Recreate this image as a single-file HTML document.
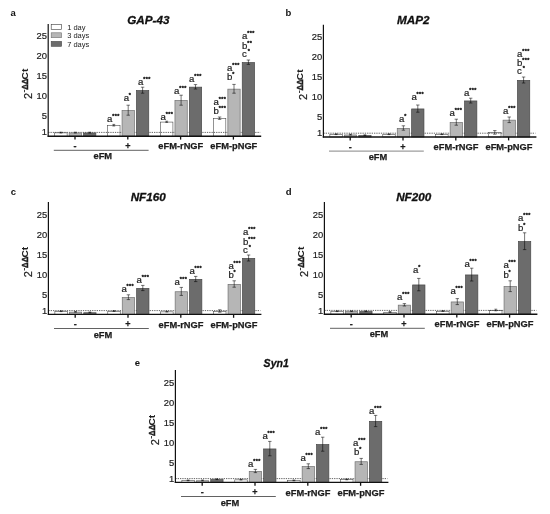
<!DOCTYPE html>
<html lang="en"><head><meta charset="utf-8"><title>Gene expression figure</title>
<style>
html,body{margin:0;padding:0;background:#fff;}
body{width:550px;height:514px;overflow:hidden;}
svg{display:block;font-family:"Liberation Sans", Arial, sans-serif;}
.hb{stroke:#1c1c1c;stroke-width:.25px;}
.hr{stroke:#1c1c1c;stroke-width:.2px;}
.ht{stroke:#111;stroke-width:.3px;}
</style></head><body>
<svg width="550" height="514" viewBox="0 0 550 514">
<rect width="550" height="514" fill="#fff"/>
<g class="panel-a">
<rect x="54.68" y="132.88" width="12.45" height="3.32" fill="#ffffff" stroke="#3a3a3a" stroke-width="0.55"/>
<rect x="107.58" y="125.47" width="12.45" height="10.72" fill="#ffffff" stroke="#3a3a3a" stroke-width="0.55"/>
<rect x="160.47" y="122.07" width="12.45" height="14.13" fill="#ffffff" stroke="#3a3a3a" stroke-width="0.55"/>
<rect x="213.38" y="118.47" width="12.45" height="17.73" fill="#ffffff" stroke="#3a3a3a" stroke-width="0.55"/>
<line x1="48.2" y1="132.4" x2="260.2" y2="132.4" stroke="#222" stroke-width="0.7" stroke-dasharray="1.3 1"/>
<rect x="69.15" y="132.95" width="12.3" height="3.25" fill="#b6b6b6" stroke="#707070" stroke-width="0.7"/>
<rect x="83.55" y="132.95" width="12.3" height="3.25" fill="#6c6c6c" stroke="#484848" stroke-width="0.7"/>
<rect x="122.05" y="110.55" width="12.3" height="25.65" fill="#b6b6b6" stroke="#707070" stroke-width="0.7"/>
<rect x="136.45" y="90.55" width="12.3" height="45.65" fill="#6c6c6c" stroke="#484848" stroke-width="0.7"/>
<rect x="174.95" y="100.55" width="12.3" height="35.65" fill="#b6b6b6" stroke="#707070" stroke-width="0.7"/>
<rect x="189.35" y="87.15" width="12.3" height="49.05" fill="#6c6c6c" stroke="#484848" stroke-width="0.7"/>
<rect x="227.85" y="89.15" width="12.3" height="47.05" fill="#b6b6b6" stroke="#707070" stroke-width="0.7"/>
<rect x="242.25" y="62.55" width="12.3" height="73.65" fill="#6c6c6c" stroke="#484848" stroke-width="0.7"/>
<path d="M60.9 132.2V133M59.5 132.2H62.3M59.5 133H62.3" stroke="#000" stroke-opacity="0.6" stroke-width="0.9" fill="none"/>
<path d="M75.3 132.2V133M73.9 132.2H76.7M73.9 133H76.7" stroke="#000" stroke-opacity="0.6" stroke-width="0.9" fill="none"/>
<path d="M89.7 132.2V133M88.3 132.2H91.1M88.3 133H91.1" stroke="#000" stroke-opacity="0.6" stroke-width="0.9" fill="none"/>
<path d="M113.8 124.4V126M112.4 124.4H115.2M112.4 126H115.2" stroke="#000" stroke-opacity="0.6" stroke-width="0.9" fill="none"/>
<path d="M128.2 105.2V115.2M126.5 105.2H129.9M126.5 115.2H129.9" stroke="#000" stroke-opacity="0.6" stroke-width="0.9" fill="none"/>
<path d="M142.6 87.2V93.2M140.9 87.2H144.3M140.9 93.2H144.3" stroke="#000" stroke-opacity="0.6" stroke-width="0.9" fill="none"/>
<path d="M166.7 121.2V122.4M165.3 121.2H168.1M165.3 122.4H168.1" stroke="#000" stroke-opacity="0.6" stroke-width="0.9" fill="none"/>
<path d="M181.1 95.2V105.2M179.4 95.2H182.8M179.4 105.2H182.8" stroke="#000" stroke-opacity="0.6" stroke-width="0.9" fill="none"/>
<path d="M195.5 84.6V89M193.8 84.6H197.2M193.8 89H197.2" stroke="#000" stroke-opacity="0.6" stroke-width="0.9" fill="none"/>
<path d="M219.6 117V119.4M217.9 117H221.3M217.9 119.4H221.3" stroke="#000" stroke-opacity="0.6" stroke-width="0.9" fill="none"/>
<path d="M234 84.4V93.2M232.3 84.4H235.7M232.3 93.2H235.7" stroke="#000" stroke-opacity="0.6" stroke-width="0.9" fill="none"/>
<path d="M248.4 60V64.4M246.7 60H250.1M246.7 64.4H250.1" stroke="#000" stroke-opacity="0.6" stroke-width="0.9" fill="none"/>
<path d="M48.2 23.9V136.8" stroke="#111" stroke-width="1.2" fill="none"/>
<path d="M47.6 136.2H261.2" stroke="#111" stroke-width="1.4" fill="none"/>
<line x1="75" y1="136.2" x2="75" y2="139.6" stroke="#111" stroke-width="1.3"/>
<line x1="127.8" y1="136.2" x2="127.8" y2="139.6" stroke="#111" stroke-width="1.3"/>
<line x1="180.6" y1="136.2" x2="180.6" y2="139.6" stroke="#111" stroke-width="1.3"/>
<line x1="233.4" y1="136.2" x2="233.4" y2="139.6" stroke="#111" stroke-width="1.3"/>
<text x="47" y="135.4" font-size="9.4" text-anchor="end" fill="#1c1c1c" class="hr">1</text>
<text x="47" y="119.4" font-size="9.4" text-anchor="end" fill="#1c1c1c" class="hr">5</text>
<text x="47" y="99.4" font-size="9.4" text-anchor="end" fill="#1c1c1c" class="hr">10</text>
<text x="47" y="79.4" font-size="9.4" text-anchor="end" fill="#1c1c1c" class="hr">15</text>
<text x="47" y="59.4" font-size="9.4" text-anchor="end" fill="#1c1c1c" class="hr">20</text>
<text x="47" y="39.4" font-size="9.4" text-anchor="end" fill="#1c1c1c" class="hr">25</text>
<g transform="translate(32 98.7) rotate(-90)" fill="#1c1c1c"><text x="-0.4" y="0" font-size="11" class="hr">2</text><text x="6" y="-4.8" font-size="10">-</text><text transform="translate(8.9 -4) scale(0.8 1)" font-size="9.8" font-weight="bold" stroke="#1c1c1c" stroke-width="0.5">ΔΔ</text><text transform="translate(19.3 -4) scale(1.04 1)" font-size="9.8" font-weight="bold">Ct</text></g>
<text x="75" y="149.2" font-size="9" font-weight="bold" text-anchor="middle" fill="#1c1c1c" class="hb">-</text>
<text x="127.8" y="149.2" font-size="9" font-weight="bold" text-anchor="middle" fill="#1c1c1c" class="hb">+</text>
<line x1="53.8" y1="150.3" x2="148.6" y2="150.3" stroke="#3a3a3a" stroke-width="0.8"/>
<text x="102.8" y="159.4" font-size="9.3" font-weight="bold" text-anchor="middle" fill="#1c1c1c" class="hb">eFM</text>
<text x="180.8" y="149.4" font-size="9.3" font-weight="bold" text-anchor="middle" fill="#1c1c1c" class="hb">eFM-rNGF</text>
<text x="233.8" y="149.4" font-size="9.3" font-weight="bold" text-anchor="middle" fill="#1c1c1c" class="hb">eFM-pNGF</text>
<text x="107" y="121.5" font-size="9.6" fill="#1c1c1c" class="hr">a<tspan font-size="5.3" font-weight="bold" dy="-4.0" dx="-0.2" letter-spacing="0.45" stroke-width="0.35">***</tspan></text>
<text x="123.7" y="101.4" font-size="9.6" fill="#1c1c1c" class="hr">a<tspan font-size="5.3" font-weight="bold" dy="-4.0" dx="-0.2" letter-spacing="0.45" stroke-width="0.35">*</tspan></text>
<text x="138" y="85" font-size="9.6" fill="#1c1c1c" class="hr">a<tspan font-size="5.3" font-weight="bold" dy="-4.0" dx="-0.2" letter-spacing="0.45" stroke-width="0.35">***</tspan></text>
<text x="160.6" y="119.6" font-size="9.6" fill="#1c1c1c" class="hr">a<tspan font-size="5.3" font-weight="bold" dy="-4.0" dx="-0.2" letter-spacing="0.45" stroke-width="0.35">***</tspan></text>
<text x="174" y="93.6" font-size="9.6" fill="#1c1c1c" class="hr">a<tspan font-size="5.3" font-weight="bold" dy="-4.0" dx="-0.2" letter-spacing="0.45" stroke-width="0.35">***</tspan></text>
<text x="189" y="81.6" font-size="9.6" fill="#1c1c1c" class="hr">a<tspan font-size="5.3" font-weight="bold" dy="-4.0" dx="-0.2" letter-spacing="0.45" stroke-width="0.35">***</tspan></text>
<text x="213.6" y="104.6" font-size="9.6" fill="#1c1c1c" class="hr">a<tspan font-size="5.3" font-weight="bold" dy="-4.0" dx="-0.2" letter-spacing="0.45" stroke-width="0.35">***</tspan></text>
<text x="213.6" y="114.2" font-size="9.6" fill="#1c1c1c" class="hr">b<tspan font-size="5.3" font-weight="bold" dy="-4.0" dx="-0.2" letter-spacing="0.45" stroke-width="0.35">***</tspan></text>
<text x="227" y="70.6" font-size="9.6" fill="#1c1c1c" class="hr">a<tspan font-size="5.3" font-weight="bold" dy="-4.0" dx="-0.2" letter-spacing="0.45" stroke-width="0.35">***</tspan></text>
<text x="227" y="79.6" font-size="9.6" fill="#1c1c1c" class="hr">b<tspan font-size="5.3" font-weight="bold" dy="-4.0" dx="-0.2" letter-spacing="0.45" stroke-width="0.35">*</tspan></text>
<text x="242" y="38.6" font-size="9.6" fill="#1c1c1c" class="hr">a<tspan font-size="5.3" font-weight="bold" dy="-4.0" dx="-0.2" letter-spacing="0.45" stroke-width="0.35">***</tspan></text>
<text x="242" y="49.2" font-size="9.6" fill="#1c1c1c" class="hr">b<tspan font-size="5.3" font-weight="bold" dy="-4.0" dx="-0.2" letter-spacing="0.45" stroke-width="0.35">**</tspan></text>
<text x="242" y="57" font-size="9.6" fill="#1c1c1c" class="hr">c<tspan font-size="5.3" font-weight="bold" dy="-4.0" dx="1.0" letter-spacing="0.45" stroke-width="0.35">*</tspan></text>
<text x="10.5" y="16.1" font-size="9.5" font-weight="bold" fill="#111">a</text>
<text transform="translate(148.3 24.4) scale(1 1)" font-size="11.7" font-weight="bold" font-style="italic" text-anchor="middle" fill="#111" class="ht">GAP-43</text>
<rect x="51.2" y="24.6" width="10.4" height="4.9" fill="#ffffff" stroke="#3a3a3a" stroke-width="0.6"/>
<text x="67.2" y="29.8" font-size="7.5" fill="#1c1c1c">1 day</text>
<rect x="51.2" y="32.8" width="10.4" height="4.9" fill="#b6b6b6" stroke="#707070" stroke-width="0.6"/>
<text x="67.2" y="38" font-size="7.5" fill="#1c1c1c">3 days</text>
<rect x="51.2" y="41.4" width="10.4" height="4.9" fill="#6c6c6c" stroke="#484848" stroke-width="0.6"/>
<text x="67.2" y="46.6" font-size="7.5" fill="#1c1c1c">7 days</text>
</g>
<g class="panel-b">
<rect x="329.87" y="134.47" width="12.45" height="2.53" fill="#ffffff" stroke="#3a3a3a" stroke-width="0.55"/>
<rect x="382.77" y="134.47" width="12.45" height="2.53" fill="#ffffff" stroke="#3a3a3a" stroke-width="0.55"/>
<rect x="435.67" y="134.47" width="12.45" height="2.53" fill="#ffffff" stroke="#3a3a3a" stroke-width="0.55"/>
<rect x="488.57" y="132.68" width="12.45" height="4.32" fill="#ffffff" stroke="#3a3a3a" stroke-width="0.55"/>
<line x1="323.4" y1="133.2" x2="535.4" y2="133.2" stroke="#222" stroke-width="0.7" stroke-dasharray="1.3 1"/>
<rect x="344.35" y="134.95" width="12.3" height="2.05" fill="#b6b6b6" stroke="#707070" stroke-width="0.7"/>
<rect x="358.75" y="135.55" width="12.3" height="1.45" fill="#6c6c6c" stroke="#484848" stroke-width="0.7"/>
<rect x="397.25" y="128.35" width="12.3" height="8.65" fill="#b6b6b6" stroke="#707070" stroke-width="0.7"/>
<rect x="411.65" y="108.95" width="12.3" height="28.05" fill="#6c6c6c" stroke="#484848" stroke-width="0.7"/>
<rect x="450.15" y="122.55" width="12.3" height="14.45" fill="#b6b6b6" stroke="#707070" stroke-width="0.7"/>
<rect x="464.55" y="100.95" width="12.3" height="36.05" fill="#6c6c6c" stroke="#484848" stroke-width="0.7"/>
<rect x="503.05" y="120.15" width="12.3" height="16.85" fill="#b6b6b6" stroke="#707070" stroke-width="0.7"/>
<rect x="517.45" y="80.35" width="12.3" height="56.65" fill="#6c6c6c" stroke="#484848" stroke-width="0.7"/>
<path d="M336.1 133.8V134.6M334.7 133.8H337.5M334.7 134.6H337.5" stroke="#000" stroke-opacity="0.6" stroke-width="0.9" fill="none"/>
<path d="M350.5 134.2V135M349.1 134.2H351.9M349.1 135H351.9" stroke="#000" stroke-opacity="0.6" stroke-width="0.9" fill="none"/>
<path d="M364.9 134.8V135.6M363.5 134.8H366.3M363.5 135.6H366.3" stroke="#000" stroke-opacity="0.6" stroke-width="0.9" fill="none"/>
<path d="M389 133.8V134.6M387.6 133.8H390.4M387.6 134.6H390.4" stroke="#000" stroke-opacity="0.6" stroke-width="0.9" fill="none"/>
<path d="M403.4 125.8V130.2M401.7 125.8H405.1M401.7 130.2H405.1" stroke="#000" stroke-opacity="0.6" stroke-width="0.9" fill="none"/>
<path d="M417.8 105V112.2M416.1 105H419.5M416.1 112.2H419.5" stroke="#000" stroke-opacity="0.6" stroke-width="0.9" fill="none"/>
<path d="M441.9 133.8V134.6M440.5 133.8H443.3M440.5 134.6H443.3" stroke="#000" stroke-opacity="0.6" stroke-width="0.9" fill="none"/>
<path d="M456.3 119.2V125.2M454.6 119.2H458M454.6 125.2H458" stroke="#000" stroke-opacity="0.6" stroke-width="0.9" fill="none"/>
<path d="M470.7 98.2V103M469 98.2H472.4M469 103H472.4" stroke="#000" stroke-opacity="0.6" stroke-width="0.9" fill="none"/>
<path d="M494.8 130.6V134.2M493.1 130.6H496.5M493.1 134.2H496.5" stroke="#000" stroke-opacity="0.6" stroke-width="0.9" fill="none"/>
<path d="M509.2 117V122.6M507.5 117H510.9M507.5 122.6H510.9" stroke="#000" stroke-opacity="0.6" stroke-width="0.9" fill="none"/>
<path d="M523.6 77V83M521.9 77H525.3M521.9 83H525.3" stroke="#000" stroke-opacity="0.6" stroke-width="0.9" fill="none"/>
<path d="M323.4 24.7V137.6" stroke="#111" stroke-width="1.2" fill="none"/>
<path d="M322.8 137H536.4" stroke="#111" stroke-width="1.4" fill="none"/>
<line x1="350.2" y1="137" x2="350.2" y2="140.4" stroke="#111" stroke-width="1.3"/>
<line x1="403" y1="137" x2="403" y2="140.4" stroke="#111" stroke-width="1.3"/>
<line x1="455.8" y1="137" x2="455.8" y2="140.4" stroke="#111" stroke-width="1.3"/>
<line x1="508.6" y1="137" x2="508.6" y2="140.4" stroke="#111" stroke-width="1.3"/>
<text x="322.2" y="136.2" font-size="9.4" text-anchor="end" fill="#1c1c1c" class="hr">1</text>
<text x="322.2" y="120.2" font-size="9.4" text-anchor="end" fill="#1c1c1c" class="hr">5</text>
<text x="322.2" y="100.2" font-size="9.4" text-anchor="end" fill="#1c1c1c" class="hr">10</text>
<text x="322.2" y="80.2" font-size="9.4" text-anchor="end" fill="#1c1c1c" class="hr">15</text>
<text x="322.2" y="60.2" font-size="9.4" text-anchor="end" fill="#1c1c1c" class="hr">20</text>
<text x="322.2" y="40.2" font-size="9.4" text-anchor="end" fill="#1c1c1c" class="hr">25</text>
<g transform="translate(307.2 99.5) rotate(-90)" fill="#1c1c1c"><text x="-0.4" y="0" font-size="11" class="hr">2</text><text x="6" y="-4.8" font-size="10">-</text><text transform="translate(8.9 -4) scale(0.8 1)" font-size="9.8" font-weight="bold" stroke="#1c1c1c" stroke-width="0.5">ΔΔ</text><text transform="translate(19.3 -4) scale(1.04 1)" font-size="9.8" font-weight="bold">Ct</text></g>
<text x="350.2" y="150" font-size="9" font-weight="bold" text-anchor="middle" fill="#1c1c1c" class="hb">-</text>
<text x="403" y="150" font-size="9" font-weight="bold" text-anchor="middle" fill="#1c1c1c" class="hb">+</text>
<line x1="329" y1="151.1" x2="423.8" y2="151.1" stroke="#858585" stroke-width="1.0"/>
<text x="378" y="160.2" font-size="9.3" font-weight="bold" text-anchor="middle" fill="#1c1c1c" class="hb">eFM</text>
<text x="456" y="150.2" font-size="9.3" font-weight="bold" text-anchor="middle" fill="#1c1c1c" class="hb">eFM-rNGF</text>
<text x="509" y="150.2" font-size="9.3" font-weight="bold" text-anchor="middle" fill="#1c1c1c" class="hb">eFM-pNGF</text>
<text x="399" y="121.6" font-size="9.6" fill="#1c1c1c" class="hr">a<tspan font-size="5.3" font-weight="bold" dy="-4.0" dx="-0.2" letter-spacing="0.45" stroke-width="0.35">*</tspan></text>
<text x="411.4" y="100.2" font-size="9.6" fill="#1c1c1c" class="hr">a<tspan font-size="5.3" font-weight="bold" dy="-4.0" dx="-0.2" letter-spacing="0.45" stroke-width="0.35">***</tspan></text>
<text x="449.6" y="115.6" font-size="9.6" fill="#1c1c1c" class="hr">a<tspan font-size="5.3" font-weight="bold" dy="-4.0" dx="-0.2" letter-spacing="0.45" stroke-width="0.35">***</tspan></text>
<text x="464" y="95.6" font-size="9.6" fill="#1c1c1c" class="hr">a<tspan font-size="5.3" font-weight="bold" dy="-4.0" dx="-0.2" letter-spacing="0.45" stroke-width="0.35">***</tspan></text>
<text x="503" y="113.6" font-size="9.6" fill="#1c1c1c" class="hr">a<tspan font-size="5.3" font-weight="bold" dy="-4.0" dx="-0.2" letter-spacing="0.45" stroke-width="0.35">***</tspan></text>
<text x="517" y="57" font-size="9.6" fill="#1c1c1c" class="hr">a<tspan font-size="5.3" font-weight="bold" dy="-4.0" dx="-0.2" letter-spacing="0.45" stroke-width="0.35">***</tspan></text>
<text x="517" y="66.2" font-size="9.6" fill="#1c1c1c" class="hr">b<tspan font-size="5.3" font-weight="bold" dy="-4.0" dx="-0.2" letter-spacing="0.45" stroke-width="0.35">***</tspan></text>
<text x="517" y="74.2" font-size="9.6" fill="#1c1c1c" class="hr">c<tspan font-size="5.3" font-weight="bold" dy="-4.0" dx="1.0" letter-spacing="0.45" stroke-width="0.35">*</tspan></text>
<text x="285.6" y="15.6" font-size="9.5" font-weight="bold" fill="#111">b</text>
<text transform="translate(413.3 24.2) scale(1 1)" font-size="11.7" font-weight="bold" font-style="italic" text-anchor="middle" fill="#111" class="ht">MAP2</text>
</g>
<g class="panel-c">
<rect x="54.88" y="311.47" width="12.45" height="2.92" fill="#ffffff" stroke="#3a3a3a" stroke-width="0.55"/>
<rect x="107.78" y="311.27" width="12.45" height="3.12" fill="#ffffff" stroke="#3a3a3a" stroke-width="0.55"/>
<rect x="160.68" y="311.87" width="12.45" height="2.53" fill="#ffffff" stroke="#3a3a3a" stroke-width="0.55"/>
<rect x="213.57" y="311.27" width="12.45" height="3.12" fill="#ffffff" stroke="#3a3a3a" stroke-width="0.55"/>
<line x1="48.4" y1="310.6" x2="260.4" y2="310.6" stroke="#222" stroke-width="0.7" stroke-dasharray="1.3 1"/>
<rect x="69.35" y="312.15" width="12.3" height="2.25" fill="#b6b6b6" stroke="#707070" stroke-width="0.7"/>
<rect x="83.75" y="312.75" width="12.3" height="1.65" fill="#6c6c6c" stroke="#484848" stroke-width="0.7"/>
<rect x="122.25" y="297.55" width="12.3" height="16.85" fill="#b6b6b6" stroke="#707070" stroke-width="0.7"/>
<rect x="136.65" y="288.35" width="12.3" height="26.05" fill="#6c6c6c" stroke="#484848" stroke-width="0.7"/>
<rect x="175.15" y="291.75" width="12.3" height="22.65" fill="#b6b6b6" stroke="#707070" stroke-width="0.7"/>
<rect x="189.55" y="279.35" width="12.3" height="35.05" fill="#6c6c6c" stroke="#484848" stroke-width="0.7"/>
<rect x="228.05" y="284.35" width="12.3" height="30.05" fill="#b6b6b6" stroke="#707070" stroke-width="0.7"/>
<rect x="242.45" y="258.35" width="12.3" height="56.05" fill="#6c6c6c" stroke="#484848" stroke-width="0.7"/>
<path d="M61.1 310.8V311.6M59.7 310.8H62.5M59.7 311.6H62.5" stroke="#000" stroke-opacity="0.6" stroke-width="0.9" fill="none"/>
<path d="M75.5 311.4V312.2M74.1 311.4H76.9M74.1 312.2H76.9" stroke="#000" stroke-opacity="0.6" stroke-width="0.9" fill="none"/>
<path d="M89.9 312V312.8M88.5 312H91.3M88.5 312.8H91.3" stroke="#000" stroke-opacity="0.6" stroke-width="0.9" fill="none"/>
<path d="M114 310.6V311.4M112.6 310.6H115.4M112.6 311.4H115.4" stroke="#000" stroke-opacity="0.6" stroke-width="0.9" fill="none"/>
<path d="M128.4 294.8V299.6M126.7 294.8H130.1M126.7 299.6H130.1" stroke="#000" stroke-opacity="0.6" stroke-width="0.9" fill="none"/>
<path d="M142.8 285.4V290.6M141.1 285.4H144.5M141.1 290.6H144.5" stroke="#000" stroke-opacity="0.6" stroke-width="0.9" fill="none"/>
<path d="M166.9 311.2V312M165.5 311.2H168.3M165.5 312H168.3" stroke="#000" stroke-opacity="0.6" stroke-width="0.9" fill="none"/>
<path d="M181.3 287.4V295.4M179.6 287.4H183M179.6 295.4H183" stroke="#000" stroke-opacity="0.6" stroke-width="0.9" fill="none"/>
<path d="M195.7 276.4V281.6M194 276.4H197.4M194 281.6H197.4" stroke="#000" stroke-opacity="0.6" stroke-width="0.9" fill="none"/>
<path d="M219.8 309.8V312.2M218.1 309.8H221.5M218.1 312.2H221.5" stroke="#000" stroke-opacity="0.6" stroke-width="0.9" fill="none"/>
<path d="M234.2 280.8V287.2M232.5 280.8H235.9M232.5 287.2H235.9" stroke="#000" stroke-opacity="0.6" stroke-width="0.9" fill="none"/>
<path d="M248.6 255V261M246.9 255H250.3M246.9 261H250.3" stroke="#000" stroke-opacity="0.6" stroke-width="0.9" fill="none"/>
<path d="M48.4 202.1V315" stroke="#111" stroke-width="1.2" fill="none"/>
<path d="M47.8 314.4H261.4" stroke="#111" stroke-width="1.4" fill="none"/>
<line x1="75.2" y1="314.4" x2="75.2" y2="317.8" stroke="#111" stroke-width="1.3"/>
<line x1="128" y1="314.4" x2="128" y2="317.8" stroke="#111" stroke-width="1.3"/>
<line x1="180.8" y1="314.4" x2="180.8" y2="317.8" stroke="#111" stroke-width="1.3"/>
<line x1="233.6" y1="314.4" x2="233.6" y2="317.8" stroke="#111" stroke-width="1.3"/>
<text x="47.2" y="313.6" font-size="9.4" text-anchor="end" fill="#1c1c1c" class="hr">1</text>
<text x="47.2" y="297.6" font-size="9.4" text-anchor="end" fill="#1c1c1c" class="hr">5</text>
<text x="47.2" y="277.6" font-size="9.4" text-anchor="end" fill="#1c1c1c" class="hr">10</text>
<text x="47.2" y="257.6" font-size="9.4" text-anchor="end" fill="#1c1c1c" class="hr">15</text>
<text x="47.2" y="237.6" font-size="9.4" text-anchor="end" fill="#1c1c1c" class="hr">20</text>
<text x="47.2" y="217.6" font-size="9.4" text-anchor="end" fill="#1c1c1c" class="hr">25</text>
<g transform="translate(32.2 276.9) rotate(-90)" fill="#1c1c1c"><text x="-0.4" y="0" font-size="11" class="hr">2</text><text x="6" y="-4.8" font-size="10">-</text><text transform="translate(8.9 -4) scale(0.8 1)" font-size="9.8" font-weight="bold" stroke="#1c1c1c" stroke-width="0.5">ΔΔ</text><text transform="translate(19.3 -4) scale(1.04 1)" font-size="9.8" font-weight="bold">Ct</text></g>
<text x="75.2" y="327.4" font-size="9" font-weight="bold" text-anchor="middle" fill="#1c1c1c" class="hb">-</text>
<text x="128" y="327.4" font-size="9" font-weight="bold" text-anchor="middle" fill="#1c1c1c" class="hb">+</text>
<line x1="54" y1="328.5" x2="148.8" y2="328.5" stroke="#3a3a3a" stroke-width="0.8"/>
<text x="103" y="337.6" font-size="9.3" font-weight="bold" text-anchor="middle" fill="#1c1c1c" class="hb">eFM</text>
<text x="181" y="327.6" font-size="9.3" font-weight="bold" text-anchor="middle" fill="#1c1c1c" class="hb">eFM-rNGF</text>
<text x="234" y="327.6" font-size="9.3" font-weight="bold" text-anchor="middle" fill="#1c1c1c" class="hb">eFM-pNGF</text>
<text x="121.4" y="291.6" font-size="9.6" fill="#1c1c1c" class="hr">a<tspan font-size="5.3" font-weight="bold" dy="-4.0" dx="-0.2" letter-spacing="0.45" stroke-width="0.35">***</tspan></text>
<text x="136.6" y="283.4" font-size="9.6" fill="#1c1c1c" class="hr">a<tspan font-size="5.3" font-weight="bold" dy="-4.0" dx="-0.2" letter-spacing="0.45" stroke-width="0.35">***</tspan></text>
<text x="174.6" y="284.6" font-size="9.6" fill="#1c1c1c" class="hr">a<tspan font-size="5.3" font-weight="bold" dy="-4.0" dx="-0.2" letter-spacing="0.45" stroke-width="0.35">***</tspan></text>
<text x="189.4" y="274.2" font-size="9.6" fill="#1c1c1c" class="hr">a<tspan font-size="5.3" font-weight="bold" dy="-4.0" dx="-0.2" letter-spacing="0.45" stroke-width="0.35">***</tspan></text>
<text x="228.4" y="268.6" font-size="9.6" fill="#1c1c1c" class="hr">a<tspan font-size="5.3" font-weight="bold" dy="-4.0" dx="-0.2" letter-spacing="0.45" stroke-width="0.35">***</tspan></text>
<text x="228.4" y="277.6" font-size="9.6" fill="#1c1c1c" class="hr">b<tspan font-size="5.3" font-weight="bold" dy="-4.0" dx="-0.2" letter-spacing="0.45" stroke-width="0.35">*</tspan></text>
<text x="243" y="235.2" font-size="9.6" fill="#1c1c1c" class="hr">a<tspan font-size="5.3" font-weight="bold" dy="-4.0" dx="-0.2" letter-spacing="0.45" stroke-width="0.35">***</tspan></text>
<text x="243" y="245" font-size="9.6" fill="#1c1c1c" class="hr">b<tspan font-size="5.3" font-weight="bold" dy="-4.0" dx="-0.2" letter-spacing="0.45" stroke-width="0.35">***</tspan></text>
<text x="243" y="253" font-size="9.6" fill="#1c1c1c" class="hr">c<tspan font-size="5.3" font-weight="bold" dy="-4.0" dx="1.0" letter-spacing="0.45" stroke-width="0.35">*</tspan></text>
<text x="10.7" y="195" font-size="9.5" font-weight="bold" fill="#111">c</text>
<text transform="translate(148.2 200.8) scale(1 1)" font-size="11.7" font-weight="bold" font-style="italic" text-anchor="middle" fill="#111" class="ht">NF160</text>
</g>
<g class="panel-d">
<rect x="330.87" y="311.47" width="12.45" height="2.73" fill="#ffffff" stroke="#3a3a3a" stroke-width="0.55"/>
<rect x="383.77" y="312.27" width="12.45" height="1.92" fill="#ffffff" stroke="#3a3a3a" stroke-width="0.55"/>
<rect x="436.67" y="311.27" width="12.45" height="2.92" fill="#ffffff" stroke="#3a3a3a" stroke-width="0.55"/>
<rect x="489.57" y="310.27" width="12.45" height="3.92" fill="#ffffff" stroke="#3a3a3a" stroke-width="0.55"/>
<line x1="324.4" y1="310.4" x2="536.4" y2="310.4" stroke="#222" stroke-width="0.7" stroke-dasharray="1.3 1"/>
<rect x="345.35" y="311.55" width="12.3" height="2.65" fill="#b6b6b6" stroke="#707070" stroke-width="0.7"/>
<rect x="359.75" y="311.55" width="12.3" height="2.65" fill="#6c6c6c" stroke="#484848" stroke-width="0.7"/>
<rect x="398.25" y="305.15" width="12.3" height="9.05" fill="#b6b6b6" stroke="#707070" stroke-width="0.7"/>
<rect x="412.65" y="284.95" width="12.3" height="29.25" fill="#6c6c6c" stroke="#484848" stroke-width="0.7"/>
<rect x="451.15" y="301.95" width="12.3" height="12.25" fill="#b6b6b6" stroke="#707070" stroke-width="0.7"/>
<rect x="465.55" y="274.95" width="12.3" height="39.25" fill="#6c6c6c" stroke="#484848" stroke-width="0.7"/>
<rect x="504.05" y="286.55" width="12.3" height="27.65" fill="#b6b6b6" stroke="#707070" stroke-width="0.7"/>
<rect x="518.45" y="241.55" width="12.3" height="72.65" fill="#6c6c6c" stroke="#484848" stroke-width="0.7"/>
<path d="M337.1 310.8V311.6M335.7 310.8H338.5M335.7 311.6H338.5" stroke="#000" stroke-opacity="0.6" stroke-width="0.9" fill="none"/>
<path d="M351.5 310.8V311.6M350.1 310.8H352.9M350.1 311.6H352.9" stroke="#000" stroke-opacity="0.6" stroke-width="0.9" fill="none"/>
<path d="M365.9 310.8V311.6M364.5 310.8H367.3M364.5 311.6H367.3" stroke="#000" stroke-opacity="0.6" stroke-width="0.9" fill="none"/>
<path d="M390 311.6V312.4M388.6 311.6H391.4M388.6 312.4H391.4" stroke="#000" stroke-opacity="0.6" stroke-width="0.9" fill="none"/>
<path d="M404.4 303.6V306M402.7 303.6H406.1M402.7 306H406.1" stroke="#000" stroke-opacity="0.6" stroke-width="0.9" fill="none"/>
<path d="M418.8 278.4V290.8M417.1 278.4H420.5M417.1 290.8H420.5" stroke="#000" stroke-opacity="0.6" stroke-width="0.9" fill="none"/>
<path d="M442.9 310.6V311.4M441.5 310.6H444.3M441.5 311.4H444.3" stroke="#000" stroke-opacity="0.6" stroke-width="0.9" fill="none"/>
<path d="M457.3 298.6V304.6M455.6 298.6H459M455.6 304.6H459" stroke="#000" stroke-opacity="0.6" stroke-width="0.9" fill="none"/>
<path d="M471.7 268.2V281M470 268.2H473.4M470 281H473.4" stroke="#000" stroke-opacity="0.6" stroke-width="0.9" fill="none"/>
<path d="M495.8 309.2V310.8M494.4 309.2H497.2M494.4 310.8H497.2" stroke="#000" stroke-opacity="0.6" stroke-width="0.9" fill="none"/>
<path d="M510.2 280.8V291.6M508.5 280.8H511.9M508.5 291.6H511.9" stroke="#000" stroke-opacity="0.6" stroke-width="0.9" fill="none"/>
<path d="M524.6 232.8V249.6M522.9 232.8H526.3M522.9 249.6H526.3" stroke="#000" stroke-opacity="0.6" stroke-width="0.9" fill="none"/>
<path d="M324.4 201.9V314.8" stroke="#111" stroke-width="1.2" fill="none"/>
<path d="M323.8 314.2H537.4" stroke="#111" stroke-width="1.4" fill="none"/>
<line x1="351.2" y1="314.2" x2="351.2" y2="317.6" stroke="#111" stroke-width="1.3"/>
<line x1="404" y1="314.2" x2="404" y2="317.6" stroke="#111" stroke-width="1.3"/>
<line x1="456.8" y1="314.2" x2="456.8" y2="317.6" stroke="#111" stroke-width="1.3"/>
<line x1="509.6" y1="314.2" x2="509.6" y2="317.6" stroke="#111" stroke-width="1.3"/>
<text x="323.2" y="313.7" font-size="9.4" text-anchor="end" fill="#1c1c1c" class="hr">1</text>
<text x="323.2" y="297.7" font-size="9.4" text-anchor="end" fill="#1c1c1c" class="hr">5</text>
<text x="323.2" y="277.7" font-size="9.4" text-anchor="end" fill="#1c1c1c" class="hr">10</text>
<text x="323.2" y="257.7" font-size="9.4" text-anchor="end" fill="#1c1c1c" class="hr">15</text>
<text x="323.2" y="237.7" font-size="9.4" text-anchor="end" fill="#1c1c1c" class="hr">20</text>
<text x="323.2" y="217.7" font-size="9.4" text-anchor="end" fill="#1c1c1c" class="hr">25</text>
<g transform="translate(308.2 276.7) rotate(-90)" fill="#1c1c1c"><text x="-0.4" y="0" font-size="11" class="hr">2</text><text x="6" y="-4.8" font-size="10">-</text><text transform="translate(8.9 -4) scale(0.8 1)" font-size="9.8" font-weight="bold" stroke="#1c1c1c" stroke-width="0.5">ΔΔ</text><text transform="translate(19.3 -4) scale(1.04 1)" font-size="9.8" font-weight="bold">Ct</text></g>
<text x="351.2" y="327.2" font-size="9" font-weight="bold" text-anchor="middle" fill="#1c1c1c" class="hb">-</text>
<text x="404" y="327.2" font-size="9" font-weight="bold" text-anchor="middle" fill="#1c1c1c" class="hb">+</text>
<line x1="330" y1="328.3" x2="424.8" y2="328.3" stroke="#3a3a3a" stroke-width="0.8"/>
<text x="379" y="337.4" font-size="9.3" font-weight="bold" text-anchor="middle" fill="#1c1c1c" class="hb">eFM</text>
<text x="457" y="327.4" font-size="9.3" font-weight="bold" text-anchor="middle" fill="#1c1c1c" class="hb">eFM-rNGF</text>
<text x="510" y="327.4" font-size="9.3" font-weight="bold" text-anchor="middle" fill="#1c1c1c" class="hb">eFM-pNGF</text>
<text x="397" y="299.6" font-size="9.6" fill="#1c1c1c" class="hr">a<tspan font-size="5.3" font-weight="bold" dy="-4.0" dx="-0.2" letter-spacing="0.45" stroke-width="0.35">***</tspan></text>
<text x="413" y="272.6" font-size="9.6" fill="#1c1c1c" class="hr">a<tspan font-size="5.3" font-weight="bold" dy="-4.0" dx="-0.2" letter-spacing="0.45" stroke-width="0.35">*</tspan></text>
<text x="450.4" y="293.6" font-size="9.6" fill="#1c1c1c" class="hr">a<tspan font-size="5.3" font-weight="bold" dy="-4.0" dx="-0.2" letter-spacing="0.45" stroke-width="0.35">***</tspan></text>
<text x="464.4" y="266.8" font-size="9.6" fill="#1c1c1c" class="hr">a<tspan font-size="5.3" font-weight="bold" dy="-4.0" dx="-0.2" letter-spacing="0.45" stroke-width="0.35">***</tspan></text>
<text x="503.4" y="268" font-size="9.6" fill="#1c1c1c" class="hr">a<tspan font-size="5.3" font-weight="bold" dy="-4.0" dx="-0.2" letter-spacing="0.45" stroke-width="0.35">***</tspan></text>
<text x="503.4" y="278" font-size="9.6" fill="#1c1c1c" class="hr">b<tspan font-size="5.3" font-weight="bold" dy="-4.0" dx="-0.2" letter-spacing="0.45" stroke-width="0.35">*</tspan></text>
<text x="518" y="221" font-size="9.6" fill="#1c1c1c" class="hr">a<tspan font-size="5.3" font-weight="bold" dy="-4.0" dx="-0.2" letter-spacing="0.45" stroke-width="0.35">***</tspan></text>
<text x="518" y="230.6" font-size="9.6" fill="#1c1c1c" class="hr">b<tspan font-size="5.3" font-weight="bold" dy="-4.0" dx="-0.2" letter-spacing="0.45" stroke-width="0.35">*</tspan></text>
<text x="285.7" y="195" font-size="9.5" font-weight="bold" fill="#111">d</text>
<text transform="translate(413.7 200.6) scale(1 1)" font-size="11.7" font-weight="bold" font-style="italic" text-anchor="middle" fill="#111" class="ht">NF200</text>
</g>
<g class="panel-e">
<rect x="181.88" y="480.67" width="12.45" height="1.73" fill="#ffffff" stroke="#3a3a3a" stroke-width="0.55"/>
<rect x="234.78" y="479.87" width="12.45" height="2.53" fill="#ffffff" stroke="#3a3a3a" stroke-width="0.55"/>
<rect x="287.67" y="480.67" width="12.45" height="1.73" fill="#ffffff" stroke="#3a3a3a" stroke-width="0.55"/>
<rect x="340.57" y="479.67" width="12.45" height="2.73" fill="#ffffff" stroke="#3a3a3a" stroke-width="0.55"/>
<line x1="175.4" y1="478.6" x2="387.4" y2="478.6" stroke="#222" stroke-width="0.7" stroke-dasharray="1.3 1"/>
<rect x="196.35" y="480.75" width="12.3" height="1.65" fill="#b6b6b6" stroke="#707070" stroke-width="0.7"/>
<rect x="210.75" y="479.55" width="12.3" height="2.85" fill="#6c6c6c" stroke="#484848" stroke-width="0.7"/>
<rect x="249.25" y="471.35" width="12.3" height="11.05" fill="#b6b6b6" stroke="#707070" stroke-width="0.7"/>
<rect x="263.65" y="448.95" width="12.3" height="33.45" fill="#6c6c6c" stroke="#484848" stroke-width="0.7"/>
<rect x="302.15" y="466.55" width="12.3" height="15.85" fill="#b6b6b6" stroke="#707070" stroke-width="0.7"/>
<rect x="316.55" y="444.55" width="12.3" height="37.85" fill="#6c6c6c" stroke="#484848" stroke-width="0.7"/>
<rect x="355.05" y="461.75" width="12.3" height="20.65" fill="#b6b6b6" stroke="#707070" stroke-width="0.7"/>
<rect x="369.45" y="421.35" width="12.3" height="61.05" fill="#6c6c6c" stroke="#484848" stroke-width="0.7"/>
<path d="M188.1 480V480.8M186.7 480H189.5M186.7 480.8H189.5" stroke="#000" stroke-opacity="0.6" stroke-width="0.9" fill="none"/>
<path d="M202.5 480V480.8M201.1 480H203.9M201.1 480.8H203.9" stroke="#000" stroke-opacity="0.6" stroke-width="0.9" fill="none"/>
<path d="M216.9 478.8V479.6M215.5 478.8H218.3M215.5 479.6H218.3" stroke="#000" stroke-opacity="0.6" stroke-width="0.9" fill="none"/>
<path d="M241 479.2V480M239.6 479.2H242.4M239.6 480H242.4" stroke="#000" stroke-opacity="0.6" stroke-width="0.9" fill="none"/>
<path d="M255.4 469.4V472.6M253.7 469.4H257.1M253.7 472.6H257.1" stroke="#000" stroke-opacity="0.6" stroke-width="0.9" fill="none"/>
<path d="M269.8 441.4V455.8M268.1 441.4H271.5M268.1 455.8H271.5" stroke="#000" stroke-opacity="0.6" stroke-width="0.9" fill="none"/>
<path d="M293.9 480V480.8M292.5 480H295.3M292.5 480.8H295.3" stroke="#000" stroke-opacity="0.6" stroke-width="0.9" fill="none"/>
<path d="M308.3 463.8V468.6M306.6 463.8H310M306.6 468.6H310" stroke="#000" stroke-opacity="0.6" stroke-width="0.9" fill="none"/>
<path d="M322.7 437.2V451.2M321 437.2H324.4M321 451.2H324.4" stroke="#000" stroke-opacity="0.6" stroke-width="0.9" fill="none"/>
<path d="M346.8 479V479.8M345.4 479H348.2M345.4 479.8H348.2" stroke="#000" stroke-opacity="0.6" stroke-width="0.9" fill="none"/>
<path d="M361.2 458.4V464.4M359.5 458.4H362.9M359.5 464.4H362.9" stroke="#000" stroke-opacity="0.6" stroke-width="0.9" fill="none"/>
<path d="M375.6 415.4V426.6M373.9 415.4H377.3M373.9 426.6H377.3" stroke="#000" stroke-opacity="0.6" stroke-width="0.9" fill="none"/>
<path d="M175.4 370.1V483" stroke="#111" stroke-width="1.2" fill="none"/>
<path d="M174.8 482.4H388.4" stroke="#111" stroke-width="1.4" fill="none"/>
<line x1="202.2" y1="482.4" x2="202.2" y2="485.8" stroke="#111" stroke-width="1.3"/>
<line x1="255" y1="482.4" x2="255" y2="485.8" stroke="#111" stroke-width="1.3"/>
<line x1="307.8" y1="482.4" x2="307.8" y2="485.8" stroke="#111" stroke-width="1.3"/>
<line x1="360.6" y1="482.4" x2="360.6" y2="485.8" stroke="#111" stroke-width="1.3"/>
<text x="174.2" y="481.6" font-size="9.4" text-anchor="end" fill="#1c1c1c" class="hr">1</text>
<text x="174.2" y="465.6" font-size="9.4" text-anchor="end" fill="#1c1c1c" class="hr">5</text>
<text x="174.2" y="445.6" font-size="9.4" text-anchor="end" fill="#1c1c1c" class="hr">10</text>
<text x="174.2" y="425.6" font-size="9.4" text-anchor="end" fill="#1c1c1c" class="hr">15</text>
<text x="174.2" y="405.6" font-size="9.4" text-anchor="end" fill="#1c1c1c" class="hr">20</text>
<text x="174.2" y="385.6" font-size="9.4" text-anchor="end" fill="#1c1c1c" class="hr">25</text>
<g transform="translate(159.2 444.9) rotate(-90)" fill="#1c1c1c"><text x="-0.4" y="0" font-size="11" class="hr">2</text><text x="6" y="-4.8" font-size="10">-</text><text transform="translate(8.9 -4) scale(0.8 1)" font-size="9.8" font-weight="bold" stroke="#1c1c1c" stroke-width="0.5">ΔΔ</text><text transform="translate(19.3 -4) scale(1.04 1)" font-size="9.8" font-weight="bold">Ct</text></g>
<text x="202.2" y="495.4" font-size="9" font-weight="bold" text-anchor="middle" fill="#1c1c1c" class="hb">-</text>
<text x="255" y="495.4" font-size="9" font-weight="bold" text-anchor="middle" fill="#1c1c1c" class="hb">+</text>
<line x1="181" y1="496.5" x2="275.8" y2="496.5" stroke="#3a3a3a" stroke-width="0.8"/>
<text x="230" y="505.6" font-size="9.3" font-weight="bold" text-anchor="middle" fill="#1c1c1c" class="hb">eFM</text>
<text x="308" y="495.6" font-size="9.3" font-weight="bold" text-anchor="middle" fill="#1c1c1c" class="hb">eFM-rNGF</text>
<text x="361" y="495.6" font-size="9.3" font-weight="bold" text-anchor="middle" fill="#1c1c1c" class="hb">eFM-pNGF</text>
<text x="248" y="466.6" font-size="9.6" fill="#1c1c1c" class="hr">a<tspan font-size="5.3" font-weight="bold" dy="-4.0" dx="-0.2" letter-spacing="0.45" stroke-width="0.35">***</tspan></text>
<text x="262.4" y="438.8" font-size="9.6" fill="#1c1c1c" class="hr">a<tspan font-size="5.3" font-weight="bold" dy="-4.0" dx="-0.2" letter-spacing="0.45" stroke-width="0.35">***</tspan></text>
<text x="300.4" y="460.6" font-size="9.6" fill="#1c1c1c" class="hr">a<tspan font-size="5.3" font-weight="bold" dy="-4.0" dx="-0.2" letter-spacing="0.45" stroke-width="0.35">***</tspan></text>
<text x="315" y="435.2" font-size="9.6" fill="#1c1c1c" class="hr">a<tspan font-size="5.3" font-weight="bold" dy="-4.0" dx="-0.2" letter-spacing="0.45" stroke-width="0.35">***</tspan></text>
<text x="353" y="445.6" font-size="9.6" fill="#1c1c1c" class="hr">a<tspan font-size="5.3" font-weight="bold" dy="-4.0" dx="-0.2" letter-spacing="0.45" stroke-width="0.35">***</tspan></text>
<text x="354" y="455" font-size="9.6" fill="#1c1c1c" class="hr">b<tspan font-size="5.3" font-weight="bold" dy="-4.0" dx="-0.2" letter-spacing="0.45" stroke-width="0.35">*</tspan></text>
<text x="369" y="413.6" font-size="9.6" fill="#1c1c1c" class="hr">a<tspan font-size="5.3" font-weight="bold" dy="-4.0" dx="-0.2" letter-spacing="0.45" stroke-width="0.35">***</tspan></text>
<text x="134.7" y="366" font-size="9.5" font-weight="bold" fill="#111">e</text>
<text transform="translate(276.2 366.8) scale(0.9 1)" font-size="11.7" font-weight="bold" font-style="italic" text-anchor="middle" fill="#111" class="ht">Syn1</text>
</g>
</svg>
</body></html>
